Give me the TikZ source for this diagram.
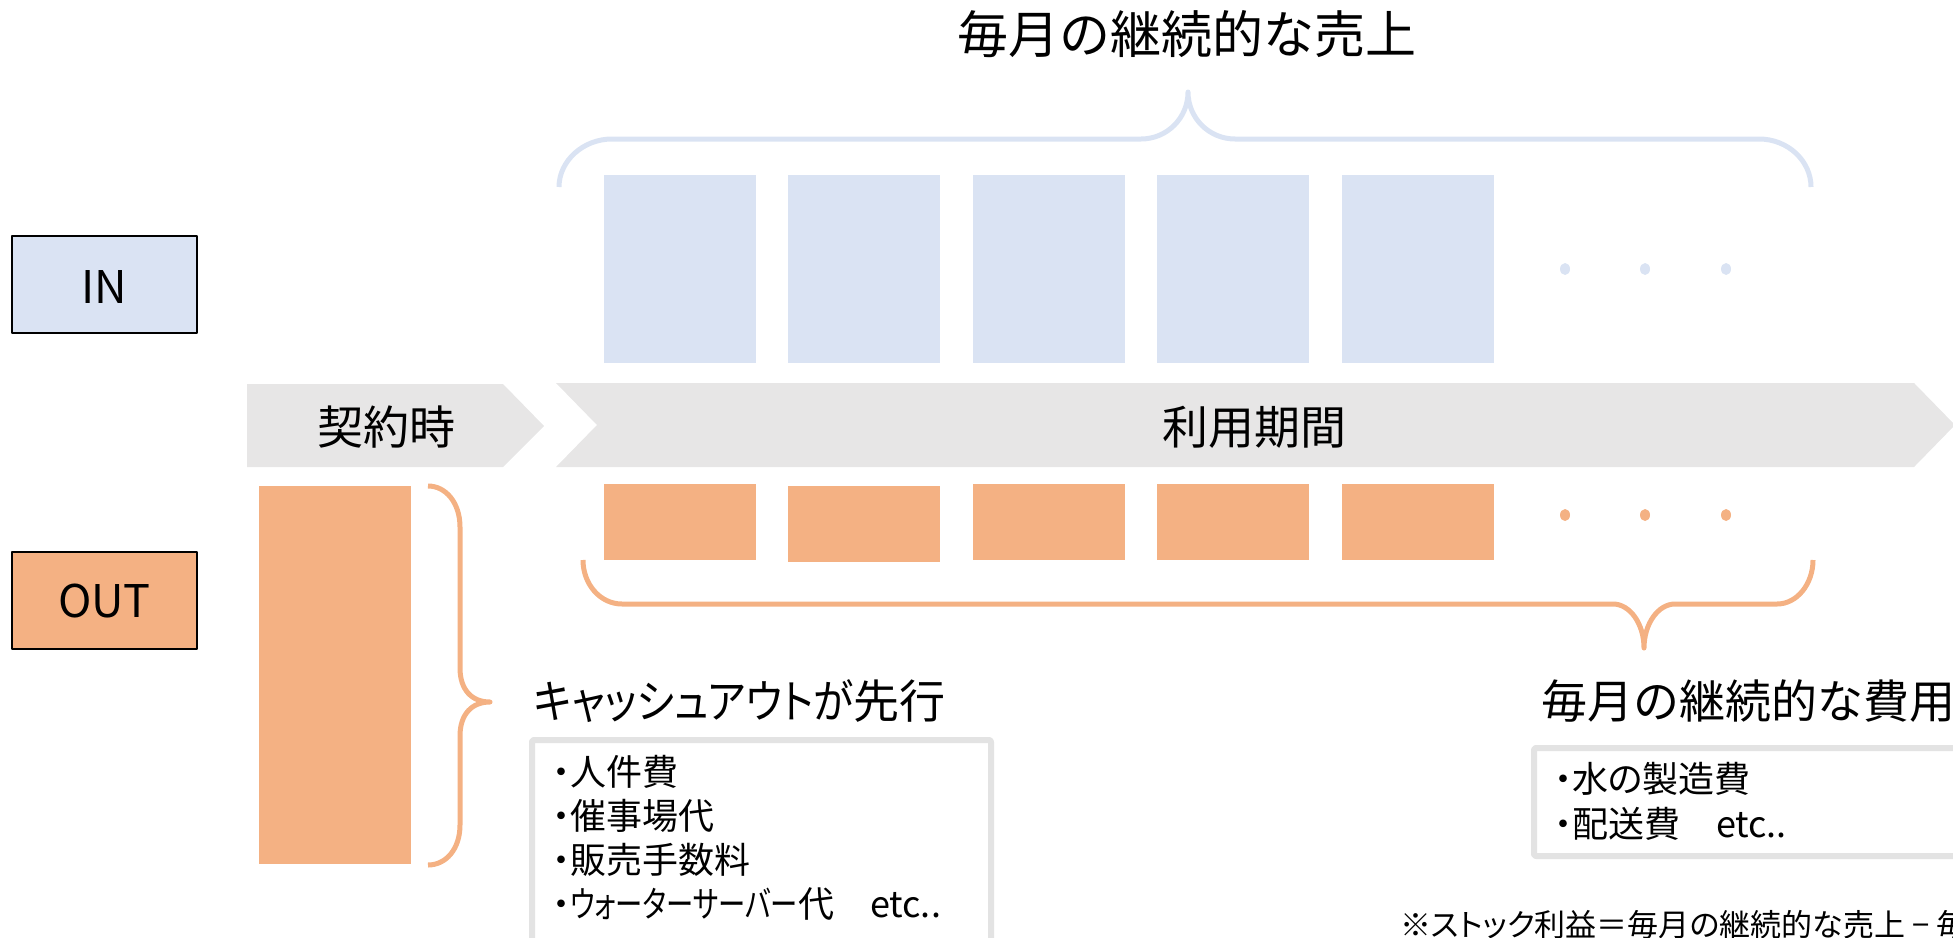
\documentclass[tikz,border=0pt]{standalone}
\usepackage{graphicx}
\usepackage{fontspec}
\setmainfont{Noto Sans CJK JP}
\newfontfamily\jpp{Noto Sans CJK JP}[RawFeature=+palt]
\newcommand\pxsize[1]{\fontsize{#1}{#1}\selectfont}
\newcommand\fitw[2]{\resizebox{#1pt}{\height}{#2}}
\definecolor{inblue}{HTML}{DAE3F3}
\definecolor{outor}{HTML}{F4B183}
\definecolor{band}{HTML}{E7E6E6}
\definecolor{framegray}{HTML}{E3E3E3}
\begin{document}
\begin{tikzpicture}[x=1pt,y=-1pt,line join=round,
  lbl/.style={inner sep=0pt,outer sep=0pt,text=black},
  legendbox/.style={draw=black,line width=2.5pt,minimum width=185pt,minimum height=97pt,inner sep=0pt},
  inmonth/.style={fill=inblue,minimum width=152pt,minimum height=188pt,inner sep=0pt},
  outmonth/.style={fill=outor,minimum width=152pt,minimum height=76pt,inner sep=0pt},
  bracepath/.style={line width=5pt,line cap=butt},
  listframe/.style={draw=framegray,line width=6pt,rounded corners=2pt}]
\useasboundingbox (0,0) rectangle (1953,937);
\clip (0,0) rectangle (1953,937);

% legend boxes
\node[legendbox,fill=inblue] (inbox) at (104.5,284.5) {};
\node[lbl,anchor=base,font=\pxsize{45}] (intext) at (104.5,303) {IN};
\node[legendbox,fill=outor] (outbox) at (104.5,600.5) {};
\node[lbl,anchor=base,font=\pxsize{45}] (outtext) at (104.5,617) {OUT};

% title and top brace
\node[lbl,anchor=base west,font=\pxsize{51}] (title) at (957,53) {毎月の継続的な売上};
\draw[bracepath,inblue] (559,187) .. controls (559,161) and (583,139) .. (612,139)
  -- (1141,139) .. controls (1167,139) and (1188,118) .. (1188,92)
  .. controls (1188,118) and (1209,139) .. (1235,139)
  -- (1759,139) .. controls (1788,139) and (1811,161) .. (1811,187);

% monthly IN boxes
\foreach \i in {0,...,4}{
  \node[inmonth] (in\i) at ({680+184.4*\i},269) {};
}
\foreach \x in {1565,1645,1726}{
  \fill[inblue] (\x,269) ellipse [x radius=5,y radius=6];
}

% time band
\fill[band] (247,384) -- (503,384) -- (544,426) -- (503,467) -- (247,467) -- cycle;
\fill[band] (556,383) -- (1914,383) -- (1955,425) -- (1914,467) -- (556,467) -- (597,425) -- cycle;
\node[lbl,anchor=base,font=\pxsize{46}] (keiyaku) at (386,444) {契約時};
\node[lbl,anchor=base,font=\pxsize{46}] (riyou) at (1254,444) {利用期間};

% monthly OUT boxes
\foreach \i in {0,...,4}{
  \node[outmonth] (out\i) at ({680+184.4*\i},{\i==1 ? 524 : 522}) {};
}
\foreach \x in {1565,1645,1726}{
  \fill[outor] (\x,515) ellipse [x radius=5,y radius=6];
}
\draw[bracepath,outor] (583,560) .. controls (583,584) and (600,604) .. (622,604)
  -- (1613,604) .. controls (1630,604) and (1644,624) .. (1644,648)
  .. controls (1644,624) and (1658,604) .. (1675,604)
  -- (1777,604) .. controls (1797,604) and (1813,584) .. (1813,560);

% initial cash out
\node[fill=outor,minimum width=152pt,minimum height=378pt,inner sep=0pt] (initbox) at (335,675) {};
\draw[bracepath,outor] (428,486) .. controls (446,486) and (460,503) .. (460,527)
  -- (460,668) .. controls (460,690) and (472,702) .. (490,702)
  .. controls (472,702) and (460,714) .. (460,736)
  -- (460,825) .. controls (460,849) and (446,865) .. (428,865);

% left list
\node[lbl,anchor=base west,font=\jpp\pxsize{46}] (cashout) at (534,718) {\fitw{319}{キャッシュアウトが}先行};
\draw[listframe] (532,740) rectangle (991,1000);
\node[lbl,anchor=base west,font=\jpp\pxsize{36}] (l1) at (552,785) {・人件費};
\node[lbl,anchor=base west,font=\jpp\pxsize{36}] (l2) at (552,829) {・催事場代};
\node[lbl,anchor=base west,font=\jpp\pxsize{36}] (l3) at (552,873) {・販売手数料};
\node[lbl,anchor=base west,font=\jpp\pxsize{36}] (l4) at (552,917) {・\fitw{228}{ウォーターサーバー}代　etc..};

% right list
\node[lbl,anchor=base west,font=\pxsize{46}] (monthcost) at (1541,718) {毎月の継続的な費用};
\draw[listframe] (1534,748) rectangle (2010,856);
\node[lbl,anchor=base west,font=\jpp\pxsize{36}] (r1) at (1554,792) {・水の製造費};
\node[lbl,anchor=base west,font=\jpp\pxsize{36}] (r2) at (1554,837) {・配送費　etc..};

% footnote
\node[lbl,anchor=base west,font=\jpp\pxsize{31}] (note) at (1400,936) {※ストック利益＝毎月の継続的な売上 − 毎月の継続的な費用};
\end{tikzpicture}
\end{document}
